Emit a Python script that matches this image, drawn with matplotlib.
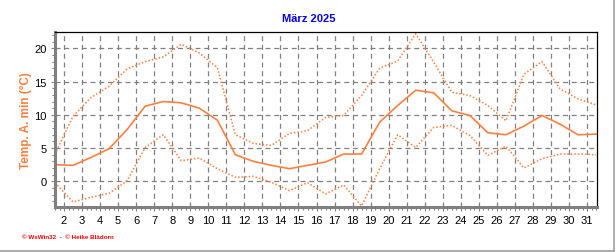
import numpy as np
import matplotlib
matplotlib.use('Agg')
import matplotlib.pyplot as plt
import matplotlib.ticker as ticker
from matplotlib.lines import Line2D

plt.rcParams['font.family'] = ['Liberation Sans', 'DejaVu Sans']

# Daily values, March 2025 (day 1..31)
days = np.arange(1, 32)
t_max = [4.1, 9.8, 12.6, 14.3, 16.9, 18.0, 18.7, 20.6, 19.3, 17.1,
         7.0, 5.7, 5.4, 7.2, 7.6, 9.6, 9.9, 12.9, 17.0, 18.1,
         22.2, 17.9, 13.4, 12.9, 11.4, 9.1, 16.1, 18.0, 13.9, 12.4, 11.5]
t_mean = [2.5, 2.4, 3.6, 4.9, 7.8, 11.3, 12.0, 11.8, 11.0, 9.2,
          4.0, 3.0, 2.4, 1.9, 2.4, 2.9, 4.1, 4.1, 8.9, 11.4,
          13.7, 13.3, 10.6, 9.9, 7.3, 7.0, 8.3, 9.9, 8.6, 7.0, 7.1]
t_min = [-0.2, -3.1, -2.4, -1.8, 0.1, 5.1, 7.0, 3.1, 3.5, 1.9,
         0.6, 0.75, -0.15, -1.4, -0.2, -1.9, -0.55, -3.7, 1.9, 7.0,
         5.1, 8.1, 8.4, 6.9, 3.9, 5.3, 2.0, 3.4, 4.1, 4.1, 4.0]
x_ticks = list(range(2, 32))
y_ticks = [0, 5, 10, 15, 20]

orange = '#ff7f3f'
grey = '#808080'

fig = plt.figure(figsize=(6.16, 2.53), dpi=100)
ax = fig.add_axes([55/616, 45/253, 542/616, 175/253])

# daily values are drawn at mid-day
xpos = days + 0.5
ax.plot(xpos, t_max, color=orange, lw=1.1, ls=(0, (1, 1.3)))
ax.plot(xpos, t_mean, color=orange, lw=1.2)
ax.plot(xpos, t_min, color=orange, lw=1.1, ls=(0, (1, 1.3)))

ax.set_xlim(1.5, 31.55)
ax.set_ylim(-3.86, 22.45)
ax.set_xticks(x_ticks)
ax.set_xticklabels([str(d) for d in x_ticks], fontsize=8)
ax.set_yticks(y_ticks)
ax.set_yticklabels([str(v) for v in y_ticks], fontsize=8)
ax.xaxis.set_minor_locator(ticker.MultipleLocator(0.25))
ax.yaxis.set_minor_locator(ticker.MultipleLocator(1))
ax.tick_params(axis='both', which='major', length=3, width=0.8, color=grey, pad=3)
ax.tick_params(axis='both', which='minor', length=2, width=0.8, color=grey)

ax.grid(True, which='major', color=grey, ls=(0, (4, 3)), lw=0.9)

for side in ['left', 'bottom']:
    ax.spines[side].set_color(grey)
    ax.spines[side].set_linewidth(2.2)
for side in ['top', 'right']:
    ax.spines[side].set_color('black')
    ax.spines[side].set_linewidth(0.9)

ax.set_ylabel('Temp. A. min (°C)', color=orange, fontsize=8.5, fontweight='bold', labelpad=2)

fig.text(0.502, 0.925, 'März 2025', color='#0000ff', fontsize=8, fontweight='bold',
         ha='center', va='center')
fig.text(0.035, 0.06, '© WsWin32  -  © Heike Blädorn', color='red', fontsize=4.5,
         fontweight='bold', ha='left', va='center')

# light frame on the right and bottom edge of the image
fig.add_artist(Line2D([0, 0.997], [0.004, 0.004], transform=fig.transFigure, color='#a0a0a0', lw=1.2))
fig.add_artist(Line2D([0.997, 0.997], [0.004, 1], transform=fig.transFigure, color='#a0a0a0', lw=1.2))

fig.savefig('out.png', dpi=100)
